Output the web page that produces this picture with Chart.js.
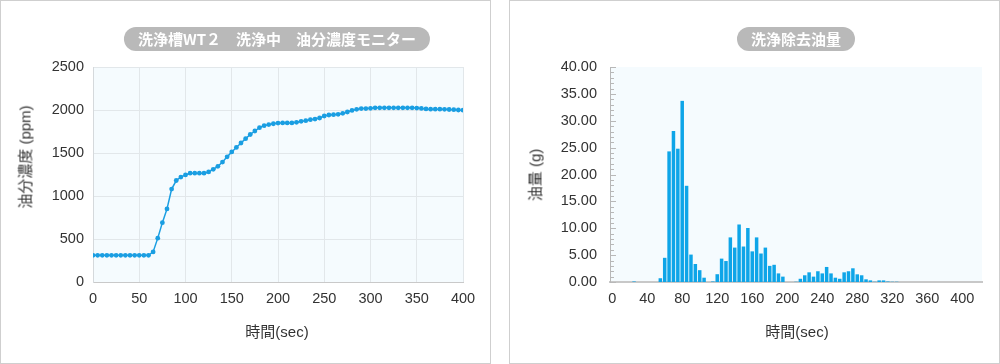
<!DOCTYPE html>
<html><head><meta charset="utf-8">
<script src="https://cdn.jsdelivr.net/npm/chart.js@4.4.1/dist/chart.umd.min.js"></script>
<style>
html,body{margin:0;padding:0;background:#fff;}
body{width:1000px;height:364px;position:relative;overflow:hidden;font-family:"Liberation Sans","Noto Sans CJK JP",sans-serif;}
.panel{position:absolute;top:0;height:364px;width:491px;box-sizing:border-box;border:1px solid #cfcfcf;}
canvas{position:absolute;top:0;}
.pill{position:absolute;top:27px;height:24px;line-height:24px;border-radius:12px;background:#b9b9b9;color:#fff;font-weight:bold;font-size:15px;white-space:nowrap;font-family:"Noto Sans CJK JP",sans-serif;transform:translateX(-50%);padding:0 14px;}
.lbl{position:absolute;color:#333;font-size:15px;white-space:nowrap;transform:translate(-50%,-50%);}
.rot{transform:translate(-50%,-50%) rotate(-90deg);}
</style></head>
<body>
<div class="panel" style="left:0"></div>
<div class="panel" style="left:509px"></div>
<canvas id="c1" width="491" height="364" style="left:0"></canvas>
<canvas id="c2" width="491" height="364" style="left:509px"></canvas>
<div class="pill" style="left:277px">洗浄槽WT２　洗浄中　油分濃度モニター</div>
<div class="pill" style="left:796px">洗浄除去油量</div>
<div class="lbl rot" style="left:24px;top:157px">油分濃度 (ppm)</div>
<div class="lbl" style="left:277px;top:330px">時間(sec)</div>
<div class="lbl rot" style="left:534px;top:175px">油量 (g)</div>
<div class="lbl" style="left:797px;top:330px">時間(sec)</div>
<script>
// ---- data: left chart (oil concentration) ----
const lineTimes = [0,5,10,15,20,25,30,35,40,45,50,55,60,65,70,75,80,85,90,95,100,105,110,115,120,125,130,135,140,145,150,155,160,165,170,175,180,185,190,195,200,205,210,215,220,225,230,235,240,245,250,255,260,265,270,275,280,285,290,295,300,305,310,315,320,325,330,335,340,345,350,355,360,365,370,375,380,385,390,395,400];
const oilConc = [310,310,310,310,310,310,310,310,310,310,310,310,310,350,510,690,850,1080,1180,1220,1245,1265,1265,1265,1265,1280,1310,1345,1395,1455,1512,1565,1616,1667,1715,1756,1795,1818,1830,1840,1848,1850,1850,1850,1857,1868,1876,1887,1895,1907,1930,1942,1946,1950,1961,1977,1995,2008,2016,2016,2020,2025,2025,2025,2025,2025,2025,2025,2025,2025,2022,2018,2012,2010,2010,2010,2008,2006,2004,2000,1998];
const concTicks = [0,500,1000,1500,2000,2500];
const timeTicksLeft = [0,50,100,150,200,250,300,350,400];

// ---- data: right chart (removed oil amount) ----
const barTimes = [0,5,10,15,20,25,30,35,40,45,50,55,60,65,70,75,80,85,90,95,100,105,110,115,120,125,130,135,140,145,150,155,160,165,170,175,180,185,190,195,200,205,210,215,220,225,230,235,240,245,250,255,260,265,270,275,280,285,290,295,300,305,310,315,320,325,330,335,340,345,350,355,360,365,370,375,380,385,390,395,400,405,410,415,420];
const oilRemoved = [0,0,0,0,0,0.1,0,0,0,0,0,0.7,4.5,24.3,28.1,24.8,33.7,17.9,5.1,3.35,2.2,0.8,0,0.1,1.45,4.35,3.9,8.3,6.4,10.7,6.6,10.05,5.7,8.3,5.3,6.4,3.0,3.2,1.6,1.0,0,0,0.05,0.6,1.25,1.8,1.0,2.0,1.6,2.8,1.6,0.8,0.6,1.8,2.0,2.55,1.43,1.25,0.5,0.3,0.05,0.3,0.3,0.1,0.05,0.05,0,0,0,0,0,0,0,0,0,0,0,0,0,0,0,0,0,0,0];
const amountTicks = [0,5,10,15,20,25,30,35,40];
const timeTicksRight = [0,40,80,120,160,200,240,280,320,360,400];

const FONT = {family:'"Liberation Sans","Noto Sans CJK JP",sans-serif', size:14.5};
const TXT = '#333';

const plotBg = {id:'plotBg', beforeDraw(chart, args, opts){
  const {ctx, chartArea:a} = chart;
  ctx.save(); ctx.fillStyle = opts.color || '#f5fbfe';
  ctx.fillRect(a.left, a.top, a.right-a.left, a.bottom-a.top); ctx.restore();
}};

const innerTicks = {id:'innerTicks', afterDraw(chart){
  const {ctx, chartArea:a, scales:{y}} = chart;
  ctx.save(); ctx.strokeStyle = '#b8b8b8'; ctx.lineWidth = 1; ctx.beginPath();
  for (let v = y.min; v <= y.max; v += 1) {
    const py = Math.round(y.getPixelForValue(v)) + 0.5;
    const len = (v % 5 === 0) ? 6 : 4;
    ctx.moveTo(a.left, py); ctx.lineTo(a.left + len, py);
  }
  ctx.stroke(); ctx.restore();
}};

new Chart(document.getElementById('c1'), {
  type:'line',
  data:{datasets:[{
    data: lineTimes.map((t,i)=>({x:t, y:oilConc[i]})),
    borderColor:'#1a9ee2', backgroundColor:'#1a9ee2',
    borderWidth:1.5, pointRadius:2.4, pointBorderWidth:0, pointHoverRadius:2.4, tension:0
  }]},
  options:{
    responsive:false, animation:false, devicePixelRatio:1,
    layout:{padding:{left:0, top:67, right:28, bottom:0}},
    plugins:{legend:{display:false}, title:{display:false}, tooltip:{enabled:false}, plotBg:{color:'#f5fbfe'}},
    scales:{
      x:{type:'linear', min:0, max:400, offset:false,
        afterBuildTicks:s=>{s.ticks = timeTicksLeft.map(v=>({value:v}));},
        afterFit:s=>{s.height = 82;},
        grid:{color:'#e2e7ea', drawTicks:false},
        border:{color:'#c9c9c9', width:1},
        ticks:{padding:8, color:TXT, font:FONT, maxRotation:0, autoSkip:false, callback:v=>String(v)}},
      y:{min:0, max:2500,
        afterBuildTicks:s=>{s.ticks = concTicks.map(v=>({value:v}));},
        afterFit:s=>{s.width = 93;},
        grid:{color:'#e2e7ea', drawTicks:false},
        border:{color:'#d5d9dc', width:1},
        ticks:{padding:9, color:TXT, font:FONT, callback:v=>String(v)}}
    }
  },
  plugins:[plotBg]
});

new Chart(document.getElementById('c2'), {
  type:'bar',
  data:{datasets:[{
    data: barTimes.map((t,i)=>({x:t, y:oilRemoved[i]})),
    backgroundColor:'#0ea5e8', borderWidth:0,
    barPercentage:0.8, categoryPercentage:1.0
  }]},
  options:{
    responsive:false, animation:false, devicePixelRatio:1,
    layout:{padding:{left:0, top:67, right:18, bottom:0}},
    plugins:{legend:{display:false}, title:{display:false}, tooltip:{enabled:false}, plotBg:{color:'#f5fbfe'}},
    scales:{
      x:{type:'linear', min:-2.5, max:422.5, offset:false,
        afterBuildTicks:s=>{s.ticks = timeTicksRight.map(v=>({value:v}));},
        afterFit:s=>{s.height = 82;},
        grid:{display:false, drawTicks:false, offset:false},
        border:{display:true, color:'#c8c8c8', width:2},
        ticks:{padding:8, color:TXT, font:FONT, maxRotation:0, autoSkip:false, callback:v=>String(v)}},
      y:{min:0, max:40,
        afterBuildTicks:s=>{s.ticks = amountTicks.map(v=>({value:v}));},
        afterFit:s=>{s.width = 101;},
        grid:{display:false, drawTicks:false},
        border:{display:true, color:'#b8b8b8', width:1},
        ticks:{padding:13, color:TXT, font:FONT, callback:v=>Number(v).toFixed(2)}}
    }
  },
  plugins:[plotBg, innerTicks]
});
</script>
</body></html>
